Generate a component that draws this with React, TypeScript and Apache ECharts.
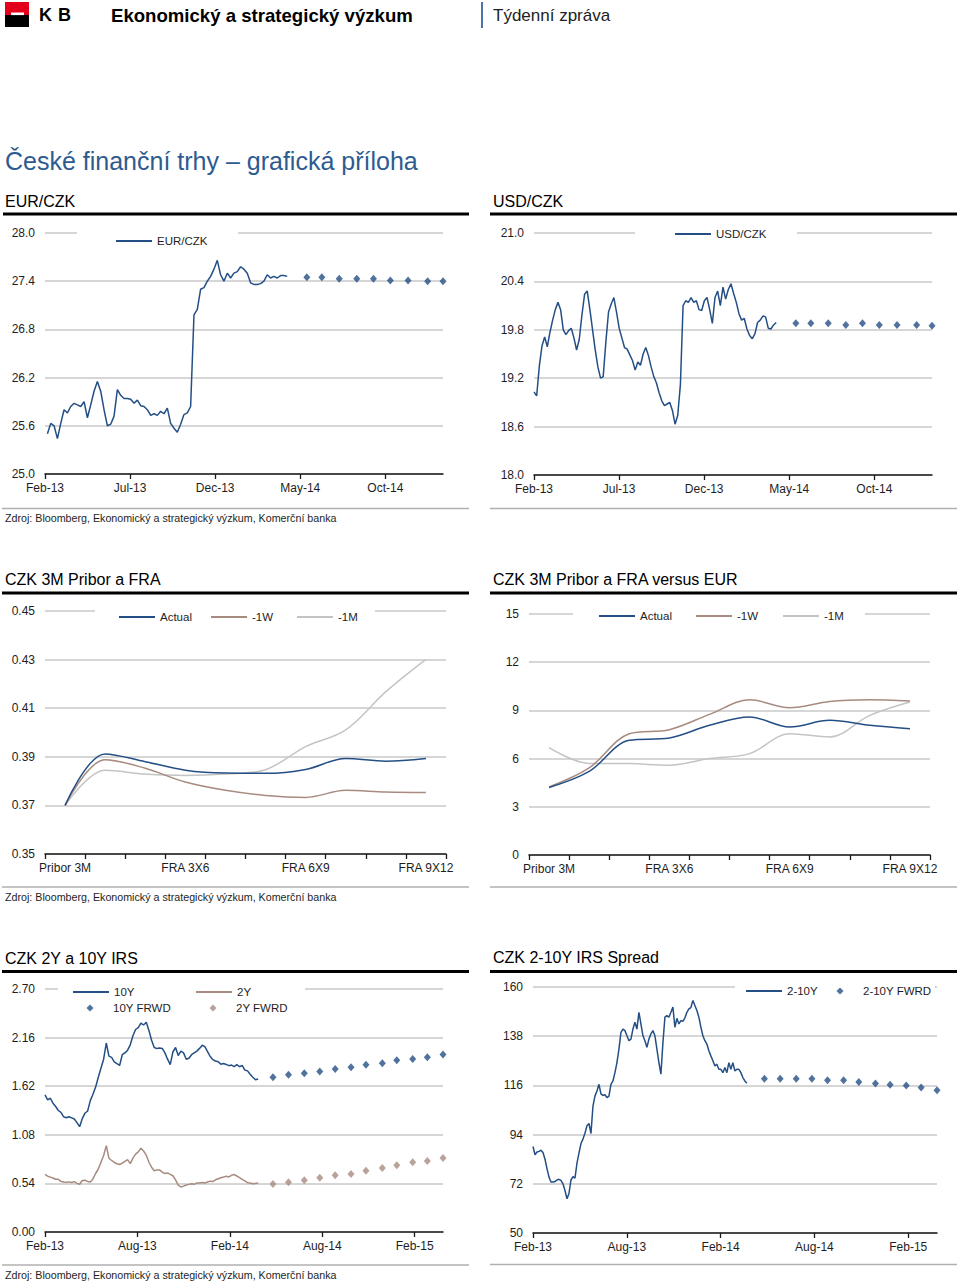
import React, { useEffect, useRef } from "react";
import * as echarts from "echarts";

// ---------------- data ----------------
const FX_TICKS = ["Feb-13", "Jul-13", "Dec-13", "May-14", "Oct-14"];
const IRS_TICKS = ["Feb-13", "Aug-13", "Feb-14", "Aug-14", "Feb-15"];
const FX_AXIS_END = "2015-01-13";
const IRS_AXIS_END = "2015-03-27";

const EUR_CZK_FROM = "2013-02-05";
const EUR_CZK_TO = "2014-04-08";
const EUR_CZK = [
  25.5, 25.63, 25.6, 25.44, 25.63, 25.8, 25.76, 25.84, 25.88, 25.86,
  25.84, 25.9, 25.7, 25.86, 26.03, 26.15, 26.03, 25.8, 25.6, 25.62,
  25.72, 26.05, 25.98, 25.94, 25.94, 25.93, 25.88, 25.92, 25.85, 25.84,
  25.8, 25.73, 25.75, 25.73, 25.78, 25.75, 25.82, 25.63, 25.57, 25.52,
  25.62, 25.74, 25.76, 25.84, 26.98, 27.05, 27.3, 27.32, 27.4, 27.46,
  27.55, 27.66, 27.48, 27.4, 27.5, 27.44, 27.5, 27.52, 27.58, 27.55,
  27.5, 27.38, 27.36, 27.36, 27.37, 27.4, 27.48, 27.44, 27.46, 27.44,
  27.47, 27.47, 27.46,
];

const USD_CZK_FROM = "2013-02-01";
const USD_CZK_TO = "2014-04-08";
const USD_CZK = [
  19.03, 18.98, 19.35, 19.6, 19.71, 19.59, 19.77, 19.92, 20.05, 20.14,
  20.05, 19.8, 19.74, 19.79, 19.82, 19.7, 19.55, 19.68, 19.98, 20.24,
  20.28, 20.05, 19.8, 19.55, 19.34, 19.2, 19.22, 19.65, 20.02, 20.12,
  20.2, 20.02, 19.82, 19.7, 19.58, 19.56, 19.49, 19.42, 19.3, 19.4,
  19.36, 19.5, 19.58, 19.48, 19.34, 19.22, 19.14, 19.02, 18.92, 18.86,
  18.88, 18.9, 18.8, 18.63, 18.74, 19.12, 20.1, 20.16, 20.14, 20.2,
  20.14, 20.16, 20.05, 20.04, 20.16, 20.2, 20.05, 19.88, 20.2, 20.28,
  20.1, 20.33, 20.18, 20.3, 20.37, 20.25, 20.14, 20.0, 19.92, 19.94,
  19.81, 19.73, 19.69, 19.75, 19.89, 19.92, 19.97, 19.96, 19.82, 19.81,
  19.86, 19.89,
];

const FX_FORECAST_DATES = [
  "2014-05-13", "2014-06-09", "2014-07-10", "2014-08-11", "2014-09-10",
  "2014-10-10", "2014-11-11", "2014-12-16", "2015-01-13",
];
const EUR_CZK_FORECAST = [27.45, 27.45, 27.43, 27.43, 27.43, 27.41, 27.41, 27.4, 27.4];
const USD_CZK_FORECAST = [19.88, 19.88, 19.88, 19.86, 19.88, 19.86, 19.86, 19.86, 19.85];

const FRA_TENORS = [
  "Pribor 3M", "FRA 1X4", "FRA 2X5", "FRA 3X6", "FRA 4X7",
  "FRA 5X8", "FRA 6X9", "FRA 7X10", "FRA 8X11", "FRA 9X12",
];
const CZK_ACTUAL = [0.37, 0.3912, 0.388, 0.3845, 0.3833, 0.3832, 0.3848, 0.3893, 0.3882, 0.3893];
const CZK_1W = [0.37, 0.3888, 0.3853, 0.3796, 0.3762, 0.3741, 0.3733, 0.3762, 0.3755, 0.3753];
const CZK_1M = [0.37, 0.3845, 0.3829, 0.3823, 0.3829, 0.3847, 0.3942, 0.4011, 0.4168, 0.4301];

const VS_EUR_ACTUAL = [4.2, 5.2, 7.14, 7.28, 8.07, 8.59, 7.97, 8.38, 8.07, 7.86];
const VS_EUR_1W = [4.24, 5.42, 7.55, 7.8, 8.75, 9.66, 9.17, 9.56, 9.66, 9.58];
const VS_EUR_1M = [6.68, 5.7, 5.69, 5.59, 6.0, 6.31, 7.55, 7.35, 8.69, 9.52];

const IRS_FROM = "2013-02-01";
const IRS_TO = "2014-03-27";
const IRS_10Y = [
  1.523, 1.468, 1.486, 1.431, 1.394, 1.35, 1.33, 1.28, 1.27, 1.28,
  1.268, 1.255, 1.215, 1.17, 1.26, 1.32, 1.345, 1.46, 1.53, 1.61,
  1.72, 1.82, 1.92, 2.1, 1.955, 1.94, 1.89, 1.87, 1.85, 1.97,
  1.99, 2.02, 2.08, 2.18, 2.25, 2.27, 2.32, 2.3, 2.33, 2.24,
  2.13, 2.05, 2.038, 2.045, 2.04, 1.99, 1.92, 1.86, 2.0, 2.05,
  1.96, 2.01, 1.99, 1.92, 1.93, 1.97, 1.99, 2.01, 2.04, 2.075,
  2.06, 2.005, 1.95, 1.915, 1.9, 1.892, 1.865, 1.872, 1.862, 1.848,
  1.855, 1.838, 1.86, 1.836, 1.852, 1.799, 1.79, 1.752, 1.72, 1.692,
  1.7,
];
const IRS_2Y = [
  0.639, 0.62, 0.61, 0.6, 0.586, 0.585, 0.562, 0.555, 0.552, 0.557,
  0.55, 0.56, 0.54, 0.53, 0.572, 0.575, 0.562, 0.556, 0.59, 0.65,
  0.7, 0.775, 0.85, 0.96, 0.82, 0.795, 0.772, 0.758, 0.75, 0.765,
  0.785, 0.805, 0.76, 0.82, 0.865, 0.89, 0.93, 0.9, 0.855, 0.775,
  0.72, 0.68, 0.69, 0.69, 0.665, 0.65, 0.656, 0.64, 0.625, 0.58,
  0.52, 0.5, 0.51, 0.522, 0.529, 0.536, 0.53, 0.545, 0.544, 0.55,
  0.545, 0.555, 0.565, 0.56, 0.58, 0.592, 0.603, 0.61, 0.62, 0.612,
  0.63, 0.638, 0.622, 0.605, 0.585, 0.568, 0.548, 0.544, 0.536, 0.54,
  0.544,
];
const IRS_FORECAST_DATES = [
  "2014-04-25", "2014-05-26", "2014-06-26", "2014-07-27", "2014-08-27", "2014-09-27",
  "2014-10-27", "2014-11-28", "2014-12-27", "2015-01-28", "2015-02-24", "2015-03-27",
];
const IRS_10Y_FORECAST = [1.719, 1.748, 1.763, 1.782, 1.811, 1.83, 1.859, 1.874, 1.908, 1.922, 1.941, 1.971];
const IRS_2Y_FORECAST = [0.533, 0.552, 0.574, 0.604, 0.63, 0.644, 0.681, 0.711, 0.741, 0.774, 0.789, 0.822];

const SPREAD_FROM = "2013-02-01";
const SPREAD_TO = "2014-03-22";
const SPREAD_2_10 = [
  88.7, 85.0, 86.2, 86.5, 87.0, 86.0, 83.0, 78.8, 75.0, 72.8,
  72.8, 73.0, 73.7, 74.0, 73.5, 72.0, 69.0, 65.3, 67.7, 73.7,
  75.2, 74.5, 81.2, 85.7, 90.0, 92.0, 94.6, 98.0, 99.0, 94.5,
  106.7, 111.2, 113.5, 116.5, 112.2, 111.5, 111.8, 110.5, 111.2, 116.5,
  118.0, 121.7, 126.2, 132.2, 139.7, 141.2, 140.5, 138.2, 136.0, 136.7,
  141.2, 144.2, 141.2, 148.7, 143.5, 138.2, 136.0, 133.0, 136.7, 139.0,
  140.5, 138.2, 132.2, 126.2, 121.0, 135.0, 146.5, 147.2, 146.5, 148.7,
  151.0, 142.0, 146.0, 143.5, 145.0, 144.6, 146.2, 148.7, 150.2, 150.8,
  154.0, 151.7, 149.5, 146.5, 142.0, 138.2, 136.0, 134.5, 131.5, 129.2,
  127.0, 124.7, 125.5, 123.2, 123.2, 121.7, 124.0, 121.7, 126.2, 123.2,
  126.2, 122.5, 123.2, 123.2, 121.7, 119.5, 118.0, 117.0,
];
const SPREAD_FORECAST = [119.0, 119.0, 119.0, 119.0, 118.3, 118.3, 117.5, 116.8, 116.3, 115.9, 115.1, 113.8];

// y scales: [min, max, interval, decimals]
const Y_SCALES: [number, number, number, number][] = [
  [25, 28, 0.6, 1],
  [18, 21, 0.6, 1],
  [0.35, 0.45, 0.02, 2],
  [0, 15, 3, 0],
  [0, 2.7, 0.54, 2],
  [50, 160, 22, 0],
];

// ---------------- styles / layout ----------------
const FONT = '"Liberation Sans", Arial, Helvetica, sans-serif';
const BLUE = "#244f85";
const BROWN = "#a78b80";
const LIGHT = "#c4c4c4";
const GRID_LINE = "#c9c9c9";
const AXIS = "#1a1a1a";
const TXT = "#1e1e1e";
const TITLE_BLUE = "#2d5b8f";

const GRID_BOXES: [number, number, number, number][] = [
  [45, 233, 398, 241],
  [534, 233, 398, 242],
  [45, 611, 401, 243],
  [529, 614, 401, 241],
  [45, 989, 398, 243],
  [533, 987, 404, 246],
];

const MONTHS = ["Jan", "Feb", "Mar", "Apr", "May", "Jun", "Jul", "Aug", "Sep", "Oct", "Nov", "Dec"];

function monthIndex(d: string): number {
  const [y, m, day] = d.split("-").map(Number);
  const dim = new Date(Date.UTC(y, m, 0)).getUTCDate();
  return (y - 2013) * 12 + (m - 2) + (day - 1) / dim;
}
function tickIndex(label: string): number {
  const [mon, yy] = label.split("-");
  return (2000 + Number(yy) - 2013) * 12 + MONTHS.indexOf(mon) - 1;
}
function spanSeries(values: number[], from: string, to: string): [number, number][] {
  const a = monthIndex(from);
  const b = monthIndex(to);
  return values.map((v, i) => [a + ((b - a) * i) / (values.length - 1), v]);
}
function datedSeries(values: number[], dates: string[]): [number, number][] {
  return values.map((v, i) => [monthIndex(dates[i]), v]);
}

function timeAxis(gridIndex: number, labels: string[], end: string) {
  const ticks = labels.map(tickIndex);
  return {
    type: "value",
    gridIndex,
    min: 0,
    max: monthIndex(end),
    interval: ticks[1] - ticks[0],
    axisLine: { show: true, onZero: false, lineStyle: { color: AXIS, width: 1.5 } },
    axisTick: { show: true, inside: false, length: 5, customValues: ticks, lineStyle: { color: AXIS, width: 1.3 } },
    axisLabel: {
      customValues: ticks,
      margin: 8,
      color: TXT,
      fontSize: 12,
      fontFamily: FONT,
      showMaxLabel: true,
      formatter: (v: number) => {
        const i = ticks.findIndex((t) => Math.abs(t - v) < 1e-6);
        return i >= 0 ? labels[i] : "";
      },
    },
    splitLine: { show: false },
  };
}
function catAxis(gridIndex: number) {
  return {
    type: "category",
    gridIndex,
    data: FRA_TENORS,
    boundaryGap: true,
    axisLine: { show: true, onZero: false, lineStyle: { color: AXIS, width: 1.5 } },
    axisTick: { show: true, interval: 0, alignWithLabel: false, inside: false, length: 5, lineStyle: { color: AXIS, width: 1.3 } },
    axisLabel: { interval: 2, margin: 8, color: TXT, fontSize: 12, fontFamily: FONT },
    splitLine: { show: false },
  };
}
function valueAxis(gridIndex: number) {
  const [min, max, interval, dec] = Y_SCALES[gridIndex];
  return {
    type: "value",
    gridIndex,
    min,
    max,
    interval,
    axisLine: { show: false },
    axisTick: { show: false },
    axisLabel: { margin: 10, color: TXT, fontSize: 12, fontFamily: FONT, formatter: (v: number) => v.toFixed(dec) },
    splitLine: { show: true, lineStyle: { color: GRID_LINE, width: 1.5 } },
  };
}

function lineSeries(name: string, data: any[], idx: number, color: string, smooth: number | boolean = false) {
  return {
    type: "line",
    name,
    data,
    xAxisIndex: idx,
    yAxisIndex: idx,
    symbol: "none",
    showSymbol: false,
    smooth,
    silent: true,
    z: 3,
    lineStyle: { color, width: 1.5 },
    itemStyle: { color },
  };
}
function diamondSeries(name: string, data: any[], idx: number, color: string) {
  return {
    type: "scatter",
    name,
    data,
    xAxisIndex: idx,
    yAxisIndex: idx,
    symbol: "diamond",
    symbolSize: [7, 8],
    clip: false,
    silent: true,
    z: 3,
    itemStyle: { color },
  };
}
// small diamond centred in a 36x7 legend icon box (invisible corners keep the box size)
const DIAMOND_ICON = "path://M0,3.5L0.01,3.5M36,3.5L35.99,3.5M18,0L21.5,3.5L18,7L14.5,3.5Z";
function legendItem(name: string, left: number, centerY: number, diamond = false) {
  return {
    show: true,
    left,
    top: centerY - 7,
    padding: 0,
    itemGap: 0,
    itemWidth: 36,
    itemHeight: diamond ? 7 : 14,
    symbolKeepAspect: true,
    selectedMode: false,
    data: [diamond ? { name, icon: DIAMOND_ICON } : name],
    itemStyle: diamond ? {} : { opacity: 0 },
    textStyle: { fontSize: 11.5, color: TXT, fontFamily: FONT },
  };
}

function text(t: string, x: number, y: number, size: number, fill = "#000", weight = "normal") {
  return {
    type: "text",
    x,
    y,
    z: 6,
    silent: true,
    style: {
      text: t,
      fill,
      fontSize: size,
      fontWeight: weight,
      fontFamily: FONT,
      align: "left",
      verticalAlign: "middle",
      textAlign: "left",
      textVerticalAlign: "middle",
    },
  };
}
function rect(x: number, y: number, width: number, height: number, fill: string, z = 6) {
  return { type: "rect", z, silent: true, shape: { x, y, width, height }, style: { fill } };
}
function hline(x1: number, x2: number, y: number, stroke: string, lineWidth: number) {
  return { type: "line", z: 6, silent: true, shape: { x1, y1: y, x2, y2: y }, style: { stroke, lineWidth } };
}

const SOURCE = "Zdroj: Bloomberg, Ekonomický a strategický výzkum, Komerční banka";

function buildOption() {
  const graphics: any[] = [
    // header
    rect(5, 2, 24, 13, "#e2001a"),
    rect(5, 15, 24, 12, "#000000"),
    { ...rect(11, 12.5, 13, 2.6, "#ffffff"), z: 7 },
    text("K", 39, 15, 18, "#000", "bold"),
    text("B", 58, 15, 18, "#000", "bold"),
    text("Ekonomický a strategický výzkum", 111, 15, 18.6, "#000", "bold"),
    { type: "line", z: 6, silent: true, shape: { x1: 482, y1: 2, x2: 482, y2: 28 }, style: { stroke: "#4a74a6", lineWidth: 2 } },
    text("Týdenní zpráva", 493, 15, 17, "#222"),
    text("České finanční trhy – grafická příloha", 5, 161, 25, TITLE_BLUE),
    // panel titles
    text("EUR/CZK", 5, 201, 16),
    text("USD/CZK", 493, 201, 16),
    text("CZK 3M Pribor a FRA", 5, 579, 16),
    text("CZK 3M Pribor a FRA versus EUR", 493, 579, 16),
    text("CZK 2Y a 10Y IRS", 5, 958, 16),
    text("CZK 2-10Y IRS Spread", 493, 957, 16),
    // thick rules under titles
    hline(3, 469, 214, "#000", 3),
    hline(490, 957, 214, "#000", 3),
    hline(2, 469, 593, "#000", 3),
    hline(490, 957, 593, "#000", 3),
    hline(2, 469, 971.5, "#000", 3),
    hline(490, 957, 971.5, "#000", 3),
    // bottom rules
    hline(2, 469, 508.5, "#b0b0b0", 1.5),
    hline(490, 957, 508.5, "#b0b0b0", 1.5),
    hline(2, 469, 887, "#b0b0b0", 1.5),
    hline(490, 957, 887, "#b0b0b0", 1.5),
    hline(2, 469, 1265, "#b0b0b0", 1.5),
    hline(490, 957, 1264.5, "#b0b0b0", 1.5),
    // sources
    text(SOURCE, 5, 518, 10.7, "#1e1e1e"),
    text(SOURCE, 5, 896.5, 10.7, "#1e1e1e"),
    text(SOURCE, 5, 1274.5, 10.7, "#1e1e1e"),
    // legend gaps in the top grid line
    rect(77, 230, 161, 6, "#ffffff", 3),
    rect(635, 229, 162, 7, "#ffffff", 3),
    rect(95, 608, 280, 6, "#ffffff", 3),
    rect(573, 611, 292, 6, "#ffffff", 3),
    rect(58, 986, 247, 6, "#ffffff", 3),
    rect(735, 984, 200, 6, "#ffffff", 3),
  ];

  return {
    animation: false,
    backgroundColor: "#ffffff",
    textStyle: { fontFamily: FONT },
    grid: GRID_BOXES.map(([left, top, width, height]) => ({ left, top, width, height, containLabel: false })),
    xAxis: [
      timeAxis(0, FX_TICKS, FX_AXIS_END),
      timeAxis(1, FX_TICKS, FX_AXIS_END),
      catAxis(2),
      catAxis(3),
      timeAxis(4, IRS_TICKS, IRS_AXIS_END),
      timeAxis(5, IRS_TICKS, IRS_AXIS_END),
    ],
    yAxis: [0, 1, 2, 3, 4, 5].map(valueAxis),
    legend: [
      legendItem("EUR/CZK", 115, 242),
      legendItem("USD/CZK", 674, 235),
      legendItem("Actual", 118, 618),
      legendItem("-1W", 210, 618),
      legendItem("-1M", 296, 618),
      legendItem("Actual", 598, 617),
      legendItem("-1W", 695, 617),
      legendItem("-1M", 782, 617),
      legendItem("10Y", 72, 993),
      legendItem("2Y", 195, 993),
      legendItem("10Y FRWD", 72, 1009, true),
      legendItem("2Y FWRD", 195, 1009, true),
      legendItem("2-10Y", 745, 992),
      legendItem("2-10Y FWRD", 822, 992, true),
    ],
    series: [
      lineSeries("EUR/CZK", spanSeries(EUR_CZK, EUR_CZK_FROM, EUR_CZK_TO), 0, BLUE),
      diamondSeries("EUR/CZK forecast", datedSeries(EUR_CZK_FORECAST, FX_FORECAST_DATES), 0, BLUE),
      lineSeries("USD/CZK", spanSeries(USD_CZK, USD_CZK_FROM, USD_CZK_TO), 1, BLUE),
      diamondSeries("USD/CZK forecast", datedSeries(USD_CZK_FORECAST, FX_FORECAST_DATES), 1, BLUE),
      lineSeries("-1M", CZK_1M, 2, LIGHT, 0.35),
      lineSeries("-1W", CZK_1W, 2, BROWN, 0.35),
      lineSeries("Actual", CZK_ACTUAL, 2, BLUE, 0.35),
      lineSeries("-1M", VS_EUR_1M, 3, LIGHT, 0.35),
      lineSeries("-1W", VS_EUR_1W, 3, BROWN, 0.35),
      lineSeries("Actual", VS_EUR_ACTUAL, 3, BLUE, 0.35),
      lineSeries("10Y", spanSeries(IRS_10Y, IRS_FROM, IRS_TO), 4, BLUE),
      lineSeries("2Y", spanSeries(IRS_2Y, IRS_FROM, IRS_TO), 4, BROWN),
      diamondSeries("10Y FRWD", datedSeries(IRS_10Y_FORECAST, IRS_FORECAST_DATES), 4, BLUE),
      diamondSeries("2Y FWRD", datedSeries(IRS_2Y_FORECAST, IRS_FORECAST_DATES), 4, BROWN),
      lineSeries("2-10Y", spanSeries(SPREAD_2_10, SPREAD_FROM, SPREAD_TO), 5, BLUE),
      diamondSeries("2-10Y FWRD", datedSeries(SPREAD_FORECAST, IRS_FORECAST_DATES), 5, BLUE),
    ],
    graphic: { elements: graphics },
  };
}

export default function App() {
  const ref = useRef<HTMLDivElement>(null);
  useEffect(() => {
    if (!ref.current) return;
    const chart = echarts.init(ref.current, null, { renderer: "svg" });
    chart.setOption(buildOption() as any);
    return () => chart.dispose();
  }, []);
  return (
    <div
      ref={ref}
      style={{ position: "absolute", left: 0, top: 0, width: 960, height: 1284, background: "#fff" }}
    />
  );
}
